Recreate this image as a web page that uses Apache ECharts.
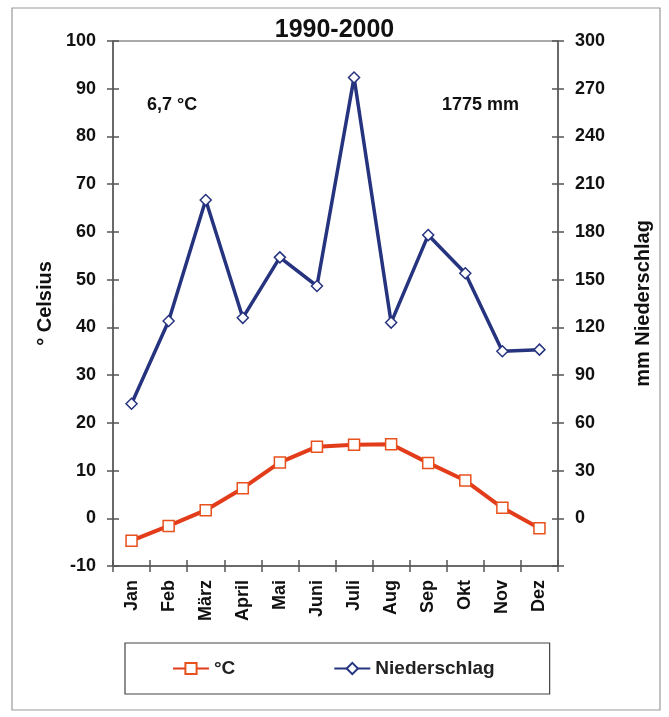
<!DOCTYPE html>
<html>
<head>
<meta charset="utf-8">
<script src="https://cdn.jsdelivr.net/npm/echarts@6/dist/echarts.min.js"></script>
<style>
  html, body { margin: 0; padding: 0; background: #fff; }
  #chart { width: 669px; height: 717px; }
</style>
</head>
<body>
<div id="chart"></div>
<script>
// Klimadiagramm 1990-2000
var months = ["Jan", "Feb", "März", "April", "Mai", "Juni", "Juli", "Aug", "Sep", "Okt", "Nov", "Dez"];
var temperatur = [-4.7, -1.6, 1.7, 6.3, 11.7, 15.0, 15.4, 15.5, 11.6, 7.9, 2.2, -2.1];
var niederschlag = [72, 124, 200, 126, 164, 146, 277, 123, 178, 154, 105, 106];
var tempTicks = [-10, 100, 10];
var rainTicks = [-30, 300, 30];

var font = "Liberation Sans, Arial, sans-serif";
var axisColor = "#555";

var chart = echarts.init(document.getElementById("chart"));

var option = {
  backgroundColor: "#fff",
  animation: false,
  title: {
    text: "1990-2000",
    left: "center",
    top: 13,
    textStyle: { fontFamily: font, fontSize: 25, fontWeight: "bold", color: "#111" }
  },
  grid: {
    left: 113, right: 111, top: 41, bottom: 151,
    show: true, borderColor: axisColor, borderWidth: 1
  },
  legend: {
    left: 125, top: 643,
    padding: [16, 55, 16, 47],
    itemGap: 98,
    itemWidth: 36, itemHeight: 14,
    borderColor: "#444", borderWidth: 1.2,
    textStyle: { fontFamily: font, fontSize: 19, fontWeight: "bold", color: "#222" },
    data: ["°C", "Niederschlag"]
  },
  xAxis: [
    {
      type: "category",
      data: months,
      boundaryGap: true,
      axisLine: { onZero: false, lineStyle: { color: axisColor, width: 1.5 } },
      axisTick: { show: true, length: 6, lineStyle: { color: axisColor, width: 1.5 } },
      axisLabel: { rotate: 90, margin: 14, fontFamily: font, fontSize: 18, fontWeight: "bold", color: "#111" }
    },
    {
      type: "category",
      data: months,
      position: "bottom",
      boundaryGap: true,
      axisLine: { show: false, onZero: false },
      axisTick: { show: true, inside: true, length: 6, lineStyle: { color: axisColor, width: 1.5 } },
      axisLabel: { show: false }
    }
  ],
  yAxis: [
    {
      type: "value",
      min: tempTicks[0], max: tempTicks[1], interval: tempTicks[2],
      name: "° Celsius",
      nameLocation: "middle",
      nameGap: 58,
      nameRotate: 90,
      nameTextStyle: { fontFamily: font, fontSize: 20, fontWeight: "bold", color: "#111" },
      axisLine: { show: true, lineStyle: { color: axisColor, width: 1.5 } },
      axisTick: { show: true, length: 6, lineStyle: { color: axisColor, width: 1.5 } },
      splitLine: { show: false },
      axisLabel: { margin: 17, fontFamily: font, fontSize: 18, fontWeight: "bold", color: "#111" }
    },
    {
      type: "value",
      min: rainTicks[0], max: rainTicks[1], interval: rainTicks[2],
      position: "right",
      name: "mm Niederschlag",
      nameLocation: "middle",
      nameGap: 75,
      nameRotate: 90,
      nameTextStyle: { fontFamily: font, fontSize: 20, fontWeight: "bold", color: "#111" },
      axisLine: { show: true, lineStyle: { color: axisColor, width: 1.5 } },
      axisTick: { show: true, length: 6, lineStyle: { color: axisColor, width: 1.5 } },
      splitLine: { show: false },
      axisLabel: {
        margin: 17, fontFamily: font, fontSize: 18, fontWeight: "bold", color: "#111",
        formatter: function (v) { return v < 0 ? "" : v; }
      }
    },
    {
      type: "value",
      min: tempTicks[0], max: tempTicks[1], interval: tempTicks[2],
      position: "left",
      axisLine: { show: false },
      axisTick: { show: true, inside: true, length: 6, lineStyle: { color: axisColor, width: 1.5 } },
      axisLabel: { show: false },
      splitLine: { show: false }
    },
    {
      type: "value",
      min: rainTicks[0], max: rainTicks[1], interval: rainTicks[2],
      position: "right",
      axisLine: { show: false },
      axisTick: { show: true, inside: true, length: 6, lineStyle: { color: axisColor, width: 1.5 } },
      axisLabel: { show: false },
      splitLine: { show: false }
    }
  ],
  graphic: [
    {
      type: "rect", silent: true, z: -1,
      shape: { x: 12, y: 8, width: 648, height: 702 },
      style: { fill: "none", stroke: "#999", lineWidth: 1.2 }
    },
    {
      type: "text", left: 147, top: 96,
      style: { text: "6,7 °C", font: "bold 18px " + font, fill: "#111" }
    },
    {
      type: "text", left: 442, top: 96,
      style: { text: "1775 mm", font: "bold 18px " + font, fill: "#111" }
    }
  ],
  series: [
    {
      name: "°C",
      type: "line",
      yAxisIndex: 0,
      data: temperatur,
      symbol: "rect",
      symbolSize: 11,
      itemStyle: { color: "#fff", borderColor: "#e8501c", borderWidth: 1.5 },
      lineStyle: { color: "#e23c1a", width: 4 },
      z: 3
    },
    {
      name: "Niederschlag",
      type: "line",
      yAxisIndex: 1,
      data: niederschlag,
      symbol: "diamond",
      symbolSize: 11,
      itemStyle: { color: "#fff", borderColor: "#26337f", borderWidth: 1.5 },
      lineStyle: { color: "#26337f", width: 3.5 },
      z: 2
    }
  ]
};

chart.setOption(option);
</script>
</body>
</html>
